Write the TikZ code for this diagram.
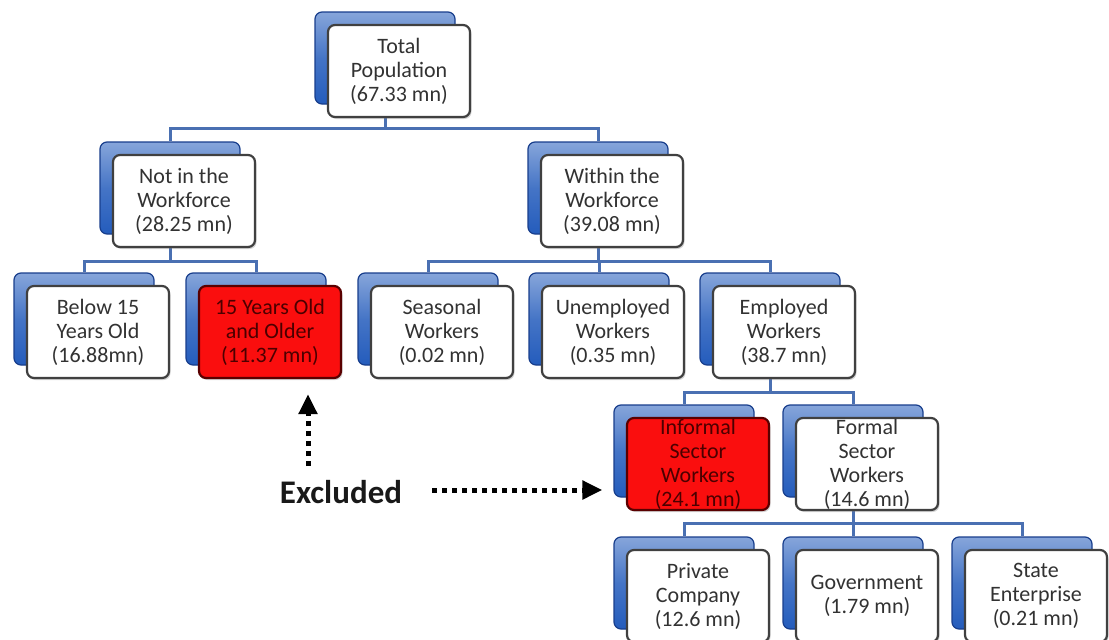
\documentclass[tikz,border=0pt]{standalone}
\usepackage{fontspec}
\setmainfont{Carlito}
\usetikzlibrary{arrows.meta}
\usetikzlibrary{backgrounds}
\usetikzlibrary{shadows}

\definecolor{barblue}{RGB}{74,112,178}
\definecolor{boxblue}{RGB}{36,92,188}
\definecolor{boxblueedge}{RGB}{24,62,140}
\definecolor{exred}{RGB}{250,14,14}
\definecolor{exredtext}{RGB}{75,0,0}
\definecolor{boxtext}{RGB}{50,50,50}

\begin{document}
\begin{tikzpicture}[x=1pt, y=-1pt,
  backbox/.style={draw=boxblueedge, line width=1.2pt, rounded corners=7pt, top color=boxblue!55!white, bottom color=boxblue, middle color=boxblue!85!white, minimum width=140pt, minimum height=92pt, inner sep=0pt},
  frontbox/.style={draw=black!75, line width=2.2pt, rounded corners=7pt, fill=white, minimum width=142pt, minimum height=92pt, inner sep=0pt, align=center, text=boxtext, font=\fontsize{22}{24}\selectfont, drop shadow={shadow xshift=1.5pt, shadow yshift=-2pt, opacity=0.35}},
  redbox/.style={frontbox, fill=exred, draw=red!35!black, text=exredtext},
  link/.style={draw=barblue, line width=3pt},
  excluded/.style={line width=5pt, dash pattern=on 5pt off 5pt, -{Triangle[width=18pt,length=20pt]}}]
  \useasboundingbox (0,0) rectangle (1109,640);

  % top
  \node[backbox] (total) at (385,58) {};
  \node[frontbox] (totalf) at ([shift={(14,13)}]total) {Total\\Population\\(67.33 mn)};

  % workforce split
  \node[backbox] (notwf) at (170,188) {};
  \node[frontbox] (notwff) at ([shift={(14,13)}]notwf) {Not in the\\Workforce\\(28.25 mn)};
  \node[backbox] (withinwf) at (598,188) {};
  \node[frontbox] (withinwff) at ([shift={(14,13)}]withinwf) {Within the\\Workforce\\(39.08 mn)};

  % third row
  \node[backbox] (below) at (84,319) {};
  \node[frontbox] (belowf) at ([shift={(14,13)}]below) {Below 15\\Years Old\\(16.88mn)};
  \node[backbox] (older) at (256,319) {};
  \node[redbox] (olderf) at ([shift={(14,13)}]older) {15 Years Old\\and Older\\(11.37 mn)};
  \node[backbox] (seasonal) at (428,319) {};
  \node[frontbox] (seasonalf) at ([shift={(14,13)}]seasonal) {Seasonal\\Workers\\(0.02 mn)};
  \node[backbox] (unemployed) at (599,319) {};
  \node[frontbox] (unemployedf) at ([shift={(14,13)}]unemployed) {Unemployed\\Workers\\(0.35 mn)};
  \node[backbox] (employed) at (770,319) {};
  \node[frontbox] (employedf) at ([shift={(14,13)}]employed) {Employed\\Workers\\(38.7 mn)};

  % sectors
  \node[backbox] (informal) at (684,451) {};
  \node[redbox] (informalf) at ([shift={(14,13)}]informal) {Informal\\Sector\\Workers\\(24.1 mn)};
  \node[backbox] (formal) at (853,451) {};
  \node[frontbox] (formalf) at ([shift={(14,13)}]formal) {Formal\\Sector\\Workers\\(14.6 mn)};

  % formal sector split
  \node[backbox] (private) at (684,583) {};
  \node[frontbox] (privatef) at ([shift={(14,13)}]private) {Private\\Company\\(12.6 mn)};
  \node[backbox] (government) at (853,583) {};
  \node[frontbox] (governmentf) at ([shift={(14,13)}]government) {Government\\(1.79 mn)};
  \node[backbox] (state) at (1022,583) {};
  \node[frontbox] (statef) at ([shift={(14,13)}]state) {State\\Enterprise\\(0.21 mn)};

  % connectors behind the boxes
  \begin{scope}[on background layer]
    \draw[link] (total.south) -- ++(0,24) -| (notwf.north);
    \draw[link] (total.south) -- ++(0,24) -| (withinwf.north);
    \draw[link] (notwf.south) -- ++(0,27) -| (below.north);
    \draw[link] (notwf.south) -- ++(0,27) -| (older.north);
    \draw[link] (withinwf.south) -- ++(0,27) -| (seasonal.north);
    \draw[link] (withinwf.south) -- ++(0,27) -| (unemployed.north);
    \draw[link] (withinwf.south) -- ++(0,27) -| (employed.north);
    \draw[link] (employed.south) -- ++(0,27) -| (informal.north);
    \draw[link] (employed.south) -- ++(0,27) -| (formal.north);
    \draw[link] (formal.south) -- ++(0,26) -| (private.north);
    \draw[link] (formal.south) -- ++(0,26) -| (government.north);
    \draw[link] (formal.south) -- ++(0,26) -| (state.north);
  \end{scope}

  % excluded groups
  \node[font=\bfseries\fontsize{33}{34}\selectfont, text=black!90] (excl) at (341,492) {Excluded};
  \coordinate (exup) at (308,466);
  \coordinate (exright) at (432,490);
  \draw[excluded, shorten >=15pt] (exup) -- (exup |- olderf.south);
  \draw[excluded, shorten >=11pt] (exright) -- (exright -| informal.west);
\end{tikzpicture}
\end{document}
